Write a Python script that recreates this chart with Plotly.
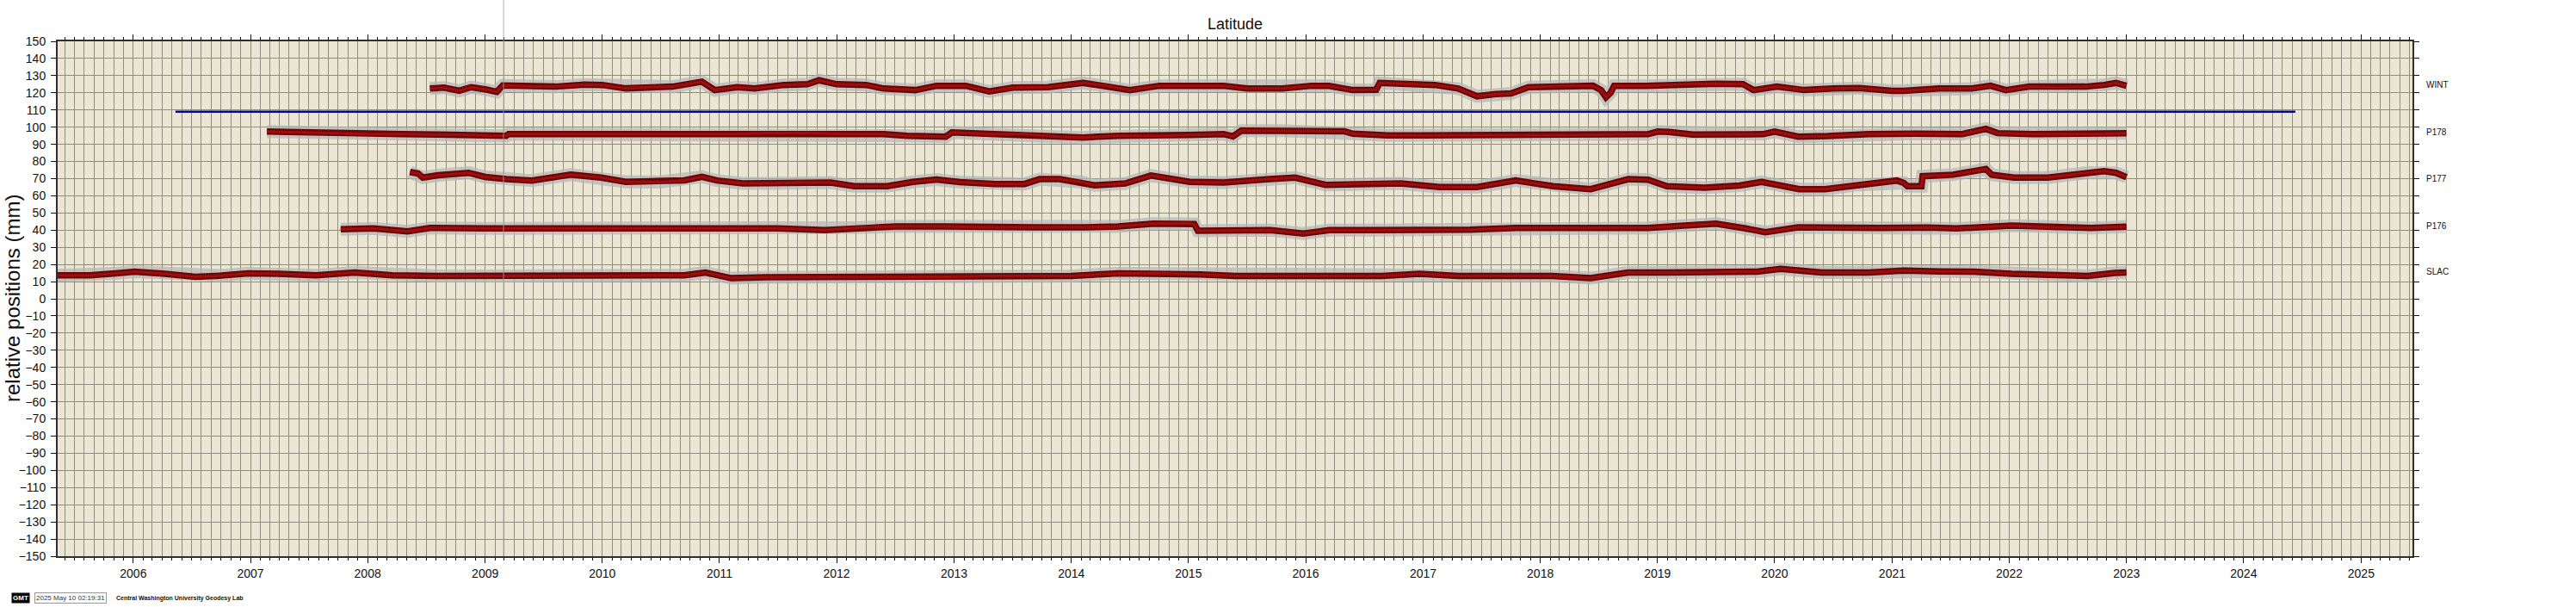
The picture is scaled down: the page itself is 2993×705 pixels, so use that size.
import plotly.graph_objects as go
from datetime import datetime

# ---------------- data (decimal year, mm) ----------------
stations = ["WINT", "P178", "P177", "P176", "SLAC"]
station_label_y = [124.5, 97, 70, 42.3, 15.6]

wint_t = [2008.53, 2008.65, 2008.78, 2008.88, 2009.00, 2009.10, 2009.15, 2009.35, 2009.60, 2009.85,
          2010.00, 2010.20, 2010.40, 2010.60, 2010.85, 2010.96, 2011.15, 2011.30, 2011.55, 2011.75,
          2011.85, 2012.00, 2012.25, 2012.40, 2012.67, 2012.85, 2013.10, 2013.30, 2013.50, 2013.80,
          2014.10, 2014.30, 2014.50, 2014.75, 2015.00, 2015.30, 2015.50, 2015.80, 2016.05, 2016.20,
          2016.40, 2016.60, 2016.63, 2016.90, 2017.10, 2017.30, 2017.46, 2017.62, 2017.75, 2017.90,
          2018.20, 2018.45, 2018.52, 2018.56, 2018.60, 2018.63, 2018.90, 2019.25, 2019.50, 2019.73,
          2019.82, 2020.02, 2020.25, 2020.50, 2020.72, 2021.00, 2021.10, 2021.40, 2021.68, 2021.84,
          2021.97, 2022.17, 2022.40, 2022.65, 2022.81, 2022.91, 2023.00]
wint_v = [122.5, 123.0, 121.2, 123.3, 122.0, 120.6, 124.3, 123.8, 123.6, 124.8,
          124.6, 122.6, 123.3, 123.6, 126.5, 121.6, 123.3, 122.5, 124.6, 125.0,
          127.3, 125.0, 124.6, 122.5, 121.6, 124.1, 124.1, 120.8, 123.0, 123.3,
          125.8, 124.1, 121.6, 124.1, 124.1, 124.1, 122.5, 122.5, 124.1, 124.0,
          121.6, 121.8, 125.8, 125.0, 124.6, 122.5, 118.0, 119.3, 119.6, 123.3,
          124.1, 124.1, 121.5, 117.4, 120.0, 124.1, 124.1, 125.0, 125.3, 125.0,
          121.6, 123.6, 121.6, 122.5, 122.8, 121.2, 121.2, 122.5, 122.5, 124.1,
          121.6, 123.6, 123.3, 123.6, 124.6, 125.8, 124.1]

p178_t = [2007.14, 2007.40, 2007.70, 2008.00, 2008.30, 2008.60, 2008.86, 2009.05, 2009.18, 2009.20,
          2009.50, 2009.83, 2010.10, 2010.50, 2010.80, 2011.10, 2011.40, 2011.80, 2012.10, 2012.40,
          2012.60, 2012.93, 2012.98, 2013.30, 2013.60, 2013.90, 2014.10, 2014.40, 2014.80, 2015.00,
          2015.30, 2015.38, 2015.45, 2015.80, 2016.10, 2016.33, 2016.40, 2016.70, 2017.00, 2017.40,
          2017.80, 2018.20, 2018.60, 2018.92, 2019.00, 2019.10, 2019.30, 2019.60, 2019.90, 2020.00,
          2020.20, 2020.45, 2020.80, 2021.20, 2021.60, 2021.80, 2021.90, 2022.20, 2022.50, 2022.80,
          2023.00]
p178_v = [97.4, 96.9, 96.6, 96.0, 95.9, 95.7, 95.4, 94.9, 94.9, 96.0,
          96.0, 96.0, 95.7, 95.7, 95.9, 96.0, 96.5, 96.5, 96.0, 96.0,
          95.0, 94.5, 96.9, 96.0, 96.0, 94.3, 94.0, 94.9, 94.9, 95.5,
          96.0, 94.6, 97.9, 97.9, 97.9, 97.6, 96.2, 95.2, 95.2, 95.2,
          95.2, 95.3, 95.7, 95.9, 97.4, 97.2, 95.7, 95.7, 95.9, 97.4,
          94.5, 94.8, 96.0, 96.2, 96.0, 99.0, 96.5, 96.0, 95.9, 96.0,
          96.5]

p177_t = [2008.36, 2008.43, 2008.47, 2008.60, 2008.86, 2009.00, 2009.18, 2009.40, 2009.73, 2009.99,
          2010.20, 2010.50, 2010.70, 2010.85, 2010.98, 2011.20, 2011.45, 2011.70, 2011.95, 2012.15,
          2012.43, 2012.65, 2012.85, 2013.05, 2013.35, 2013.60, 2013.73, 2013.90, 2014.08, 2014.20,
          2014.46, 2014.68, 2015.01, 2015.30, 2015.69, 2015.91, 2016.17, 2016.49, 2016.81, 2017.14,
          2017.46, 2017.79, 2018.11, 2018.43, 2018.75, 2018.92, 2019.08, 2019.40, 2019.70, 2019.89,
          2020.21, 2020.43, 2020.71, 2021.04, 2021.10, 2021.13, 2021.25, 2021.26, 2021.52, 2021.80,
          2021.85, 2022.04, 2022.33, 2022.65, 2022.81, 2022.91, 2023.00]
p177_v = [73.9, 73.0, 70.6, 72.0, 73.4, 71.0, 69.7, 68.9, 72.3, 70.6,
          68.1, 68.1, 69.0, 71.1, 68.9, 67.2, 67.2, 67.7, 67.7, 65.6,
          65.6, 68.1, 69.5, 68.0, 66.8, 66.9, 69.7, 69.7, 68.1, 66.1,
          67.2, 71.8, 68.1, 67.7, 69.7, 70.6, 66.4, 67.2, 67.2, 65.1,
          65.1, 68.9, 65.6, 63.9, 69.7, 69.4, 65.6, 64.7, 66.0, 68.1,
          63.9, 63.9, 66.4, 68.9, 67.5, 65.6, 65.6, 71.4, 72.3, 75.6,
          72.3, 70.6, 70.6, 73.4, 74.4, 73.4, 70.9]

p176_t = [2007.77, 2008.05, 2008.34, 2008.53, 2009.00, 2009.50, 2010.00, 2010.50, 2011.00, 2011.50,
          2011.90, 2012.20, 2012.50, 2012.93, 2013.30, 2013.70, 2014.10, 2014.40, 2014.70, 2015.00,
          2015.05, 2015.08, 2015.40, 2015.70, 2015.98, 2016.20, 2016.60, 2017.00, 2017.40, 2017.79,
          2018.20, 2018.60, 2018.92, 2019.20, 2019.50, 2019.75, 2019.92, 2020.20, 2020.50, 2020.90,
          2021.30, 2021.55, 2022.02, 2022.40, 2022.70, 2023.00]
p176_v = [40.5, 41.0, 39.3, 41.3, 41.0, 41.0, 41.0, 41.0, 41.0, 41.0,
          40.0, 41.5, 42.1, 42.1, 41.6, 41.6, 41.6, 42.1, 43.8, 44.0,
          43.5, 39.6, 40.0, 40.0, 38.0, 40.0, 40.0, 40.0, 40.3, 41.3,
          41.3, 41.3, 41.3, 42.5, 43.8, 41.0, 38.8, 41.6, 41.3, 41.3,
          41.5, 41.0, 42.6, 41.5, 41.3, 42.0]

slac_t = [2005.35, 2005.63, 2005.85, 2006.01, 2006.27, 2006.53, 2006.75, 2006.98, 2007.24, 2007.56,
          2007.89, 2008.21, 2008.60, 2009.00, 2009.50, 2010.00, 2010.40, 2010.70, 2010.88, 2011.10,
          2011.40, 2011.80, 2012.20, 2012.60, 2012.93, 2013.30, 2013.70, 2014.00, 2014.40, 2014.80,
          2015.10, 2015.40, 2015.80, 2016.30, 2016.65, 2016.97, 2017.30, 2017.70, 2018.10, 2018.43,
          2018.75, 2019.10, 2019.40, 2019.60, 2019.85, 2020.05, 2020.40, 2020.80, 2021.10, 2021.40,
          2021.70, 2022.02, 2022.35, 2022.67, 2022.90, 2023.00]
slac_v = [13.7, 13.7, 14.8, 15.8, 14.5, 12.8, 13.5, 14.8, 14.5, 13.7,
          15.3, 13.7, 13.3, 13.3, 13.3, 13.3, 13.7, 13.7, 15.3, 12.0,
          12.5, 12.5, 12.5, 12.5, 12.8, 13.3, 13.3, 13.3, 14.8, 14.8,
          14.2, 13.3, 13.3, 13.3, 13.3, 14.5, 13.3, 13.3, 13.3, 12.0,
          15.3, 15.3, 15.3, 15.8, 15.8, 17.4, 15.3, 15.3, 16.4, 15.9,
          15.8, 14.5, 14.0, 13.3, 15.0, 15.3]

series_t = [wint_t, p178_t, p177_t, p176_t, slac_t]
series_v = [wint_v, p178_v, p177_v, p176_v, slac_v]

ref_line_value = 109
ref_line_span = [2006.36, 2024.44]
marker_epoch = 2009.157

years = list(range(2006, 2026))
y_range = [-150, 150]

# ---------------- helpers ----------------
def to_date(y):
    yr = int(y)
    a = datetime(yr, 1, 1)
    b = datetime(yr + 1, 1, 1)
    return a + (b - a) * (y - yr)

W, H = 2993, 705
L, R, T, B = 67, 2803, 48, 646

def px(xp):
    return (xp - L) / (R - L)

def py(yp):
    return (B - yp) / (B - T)

FONT = "Liberation Sans, Arial, Helvetica, sans-serif"
GRID = "#8f8c80"
BG = "#ebe6d4"

fig = go.Figure()

for t, v in zip(series_t, series_v):
    d = [to_date(x) for x in t]
    fig.add_trace(go.Scatter(x=d, y=v, mode="lines",
                             line=dict(color="rgba(180,180,180,0.7)", width=15),
                             hoverinfo="skip", showlegend=False))
for t, v in zip(series_t, series_v):
    d = [to_date(x) for x in t]
    fig.add_trace(go.Scatter(x=d, y=v, mode="lines",
                             line=dict(color="#6a0606", width=7.5),
                             showlegend=False))
    fig.add_trace(go.Scatter(x=d, y=v, mode="lines",
                             line=dict(color="#9e0e0e", width=3),
                             hoverinfo="skip", showlegend=False))

fig.add_trace(go.Scatter(x=[to_date(ref_line_span[0]), to_date(ref_line_span[1])],
                         y=[ref_line_value, ref_line_value], mode="lines",
                         line=dict(color="#0b0b80", width=2.5), showlegend=False))

fig.add_shape(type="line", xref="x", yref="paper",
              x0=to_date(marker_epoch), x1=to_date(marker_epoch),
              y0=0, y1=py(0), line=dict(color="rgba(165,165,165,0.8)", width=1), layer="above")

axis_common = dict(showline=True, linecolor="#2e2e2e", linewidth=2, mirror="ticks",
                   ticks="outside", tickcolor="#111", tickwidth=1, zeroline=False,
                   showgrid=True, gridcolor=GRID, gridwidth=1,
                   tickfont=dict(family=FONT, size=14, color="#111"))

fig.update_layout(
    width=W, height=H,
    margin=dict(l=L, r=W - R, t=T, b=H - B, pad=0),
    paper_bgcolor="white", plot_bgcolor=BG,
    font=dict(family=FONT, color="#111"),
    xaxis=dict(type="date", range=[to_date(2005.3545), to_date(2025.438)],
               tickmode="array", tickvals=[datetime(y, 1, 1) for y in years],
               ticktext=[str(y) for y in years], ticklen=6,
               minor=dict(dtick="M1", tick0="2006-01-01", ticks="outside", ticklen=3,
                          tickcolor="#111", showgrid=True, gridcolor=GRID, gridwidth=1),
               **axis_common),
    yaxis=dict(range=y_range, dtick=10, tick0=0, ticklen=6, ticklabelstandoff=3,
               **axis_common),
    showlegend=False,
)

ann = []
ann.append(dict(text="Latitude", x=0.5, y=py(28), xref="paper", yref="paper",
                showarrow=False, font=dict(family=FONT, size=18, color="#111"),
                xanchor="center", yanchor="middle"))
ann.append(dict(text="relative positions (mm)", x=px(14), y=0.5, xref="paper", yref="paper",
                textangle=-90, showarrow=False, font=dict(family=FONT, size=24, color="#111"),
                xanchor="center", yanchor="middle"))
for name, yv in zip(stations, station_label_y):
    ann.append(dict(text=name, x=px(2817), y=yv, xref="paper", yref="y",
                    showarrow=False, font=dict(family=FONT, size=10, color="#111"),
                    xanchor="left", yanchor="middle"))
# GMT time stamp
ann.append(dict(text="<b>GMT</b>", x=px(13), y=py(694), xref="paper", yref="paper",
                showarrow=False, bgcolor="black", font=dict(family=FONT, size=8, color="white"),
                xanchor="left", yanchor="middle", borderpad=1))
ann.append(dict(text="2025 May 10 02:19:31", x=px(40), y=py(694), xref="paper", yref="paper",
                showarrow=False, bgcolor="white", bordercolor="#999", borderwidth=1,
                font=dict(family=FONT, size=8, color="#333"),
                xanchor="left", yanchor="middle", borderpad=1))
ann.append(dict(text="<b>Central Washington University Geodesy Lab</b>", x=px(133), y=py(695),
                xref="paper", yref="paper", showarrow=False,
                font=dict(family=FONT, size=7, color="#111"),
                xanchor="left", yanchor="middle"))
fig.update_layout(annotations=ann)

fig.write_html("out.html", config={"displayModeBar": False},
               post_script="document.body.style.margin='0px';document.body.style.overflow='hidden';")
